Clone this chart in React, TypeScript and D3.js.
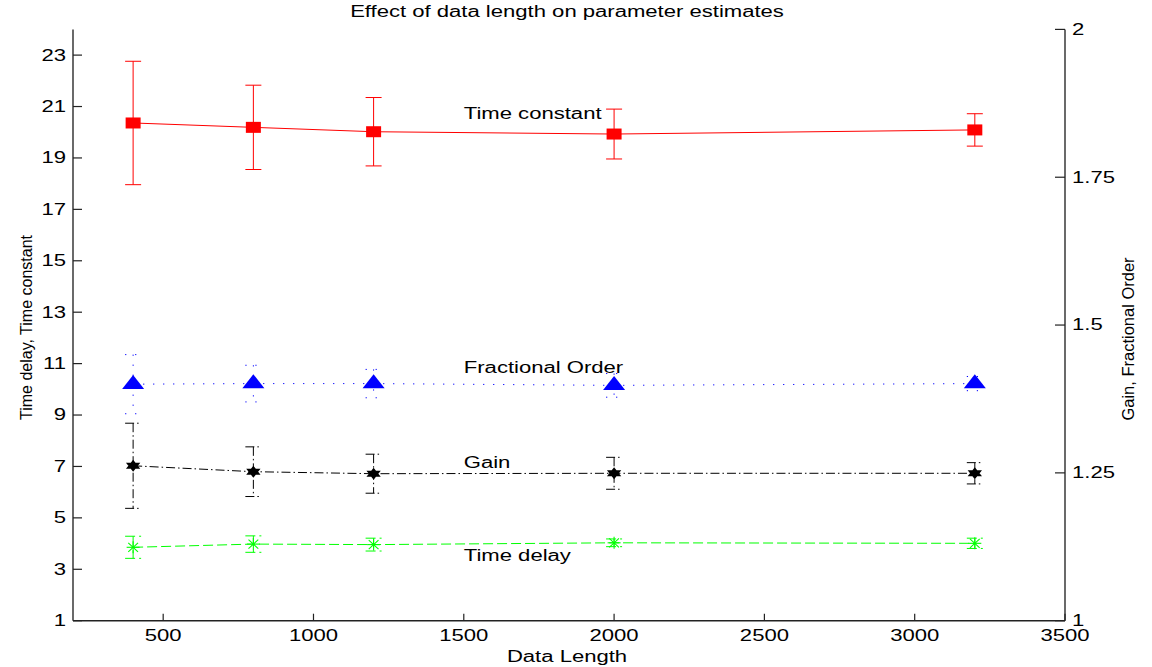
import React from "react";
import * as d3 from "d3";

// Data lengths at which the estimates were evaluated
const dataLength = [400, 800, 1200, 2000, 3200];

// Time constant (left axis): mean and half-width of the error bar
const timeConstant = [20.36, 20.19, 20.02, 19.93, 20.09];
const timeConstantErr = [2.4, 1.64, 1.33, 0.97, 0.63];

// Time delay (left axis)
const timeDelay = [3.855, 3.98, 3.96, 4.03, 4.01];
const timeDelayErr = [0.43, 0.32, 0.25, 0.15, 0.2];

// Fractional order (right axis)
const fracOrder = [1.4, 1.401, 1.401, 1.398, 1.401];
const fracOrderErr = [0.05, 0.031, 0.024, 0.02, 0.012];

// Gain (right axis)
const gain = [1.262, 1.252, 1.2486, 1.2493, 1.2493];
const gainErr = [0.072, 0.042, 0.033, 0.027, 0.018];

// Tick values
const xTicks = [500, 1000, 1500, 2000, 2500, 3000, 3500];
const leftTicks = [1, 3, 5, 7, 9, 11, 13, 15, 17, 19, 21, 23];
const rightTicks = [1, 1.25, 1.5, 1.75, 2];
const rightTickLabels = ["1", "1.25", "1.5", "1.75", "2"];

// In-plot annotations (x in data length, y in left-axis units)
const annotations = [
  { text: "Time constant", x: 1500, y: 20.72 },
  { text: "Fractional Order", x: 1500, y: 10.85 },
  { text: "Gain", x: 1500, y: 7.13 },
  { text: "Time delay", x: 1500, y: 3.55 },
];

const W = 1152;
const H = 667;
const left = 73;
const right = 1065;
const top = 29.4;
const bottom = 620.7;
const SX = 1.38; // horizontal text stretch
const FONT = "'Liberation Sans', Arial, Helvetica, sans-serif";

const x = d3.scaleLinear().domain([200, 3500]).range([left, right]);
const yL = d3.scaleLinear().domain([1, 24]).range([bottom, top]);
const yR = d3.scaleLinear().domain([1, 2]).range([bottom, top]);

type Series = {
  values: number[];
  errs: number[];
  scale: d3.ScaleLinear<number, number>;
  color: string;
  dash: string | undefined;
  marker: "square" | "triangle" | "hexagram" | "asterisk";
};

const series: Series[] = [
  { values: timeConstant, errs: timeConstantErr, scale: yL, color: "#ff0000", dash: undefined, marker: "square" },
  { values: fracOrder, errs: fracOrderErr, scale: yR, color: "#0000ff", dash: "1.2 8.8", marker: "triangle" },
  { values: gain, errs: gainErr, scale: yR, color: "#000000", dash: "9 3 1.5 3", marker: "hexagram" },
  { values: timeDelay, errs: timeDelayErr, scale: yL, color: "#00ff00", dash: "10 4", marker: "asterisk" },
];

function hexagramPath(r: number) {
  const pts = (offset: number) =>
    [0, 1, 2].map((k) => {
      const a = ((offset + k * 120) * Math.PI) / 180;
      return [Math.cos(a) * r * SX, Math.sin(a) * r] as [number, number];
    });
  const tri = (p: [number, number][]) => "M" + p.map((q) => q.join(",")).join("L") + "Z";
  return tri(pts(-90)) + tri(pts(90));
}

function Marker({ kind, cx, cy, color }: { kind: Series["marker"]; cx: number; cy: number; color: string }) {
  if (kind === "square") {
    return <rect x={cx - 7.5} y={cy - 5.5} width={15} height={11} fill={color} />;
  }
  if (kind === "triangle") {
    return <path d={`M${cx},${cy - 9.3}L${cx + 11},${cy + 4.7}L${cx - 11},${cy + 4.7}Z`} fill={color} />;
  }
  if (kind === "hexagram") {
    return <path d={hexagramPath(6)} transform={`translate(${cx},${cy})`} fill={color} />;
  }
  const hx = 6.5;
  const hy = 6;
  return (
    <g stroke={color} strokeWidth={1.1}>
      <line x1={cx - hx} y1={cy} x2={cx + hx} y2={cy} />
      <line x1={cx} y1={cy - hy} x2={cx} y2={cy + hy} />
      <line x1={cx - hx * 0.75} y1={cy - hy * 0.75} x2={cx + hx * 0.75} y2={cy + hy * 0.75} />
      <line x1={cx - hx * 0.75} y1={cy + hy * 0.75} x2={cx + hx * 0.75} y2={cy - hy * 0.75} />
    </g>
  );
}

function SText({ x0, y0, anchor, children, baseline }: { x0: number; y0: number; anchor: string; children: React.ReactNode; baseline?: string }) {
  return (
    <text
      transform={`translate(${x0},${y0}) scale(${SX},1)`}
      textAnchor={anchor}
      dominantBaseline={baseline}
      fontFamily={FONT}
      fontSize={16}
      fill="#000"
    >
      {children}
    </text>
  );
}

export default function App() {
  const capW = 8;
  return (
    <svg
      width={W}
      height={H}
      style={{ position: "absolute", left: 0, top: 0, display: "block", background: "#fff" }}
    >
      {/* series */}
      {series.map((s, si) => {
        const line = d3
          .line<number>()
          .x((_, i) => x(dataLength[i]))
          .y((v) => s.scale(v));
        return (
          <g key={si}>
            <path d={line(s.values) ?? ""} fill="none" stroke={s.color} strokeWidth={1} strokeDasharray={s.dash} />
            {s.values.map((v, i) => {
              const cx = x(dataLength[i]);
              const yt = s.scale(v + s.errs[i]);
              const yb = s.scale(v - s.errs[i]);
              return (
                <g key={i} stroke={s.color} strokeWidth={1} strokeDasharray={s.dash} fill="none">
                  <line x1={cx} y1={yt} x2={cx} y2={yb} />
                  <line x1={cx - capW} y1={yt} x2={cx + capW} y2={yt} />
                  <line x1={cx - capW} y1={yb} x2={cx + capW} y2={yb} />
                </g>
              );
            })}
            {s.values.map((v, i) => (
              <Marker key={"m" + i} kind={s.marker} cx={x(dataLength[i])} cy={s.scale(v)} color={s.color} />
            ))}
          </g>
        );
      })}

      {/* annotations */}
      {annotations.map((a) => (
        <SText key={a.text} x0={x(a.x)} y0={yL(a.y)} anchor="start" baseline="central">
          {a.text}
        </SText>
      ))}

      {/* axes lines */}
      <line x1={left} y1={top} x2={left} y2={bottom} stroke="#444" strokeWidth={1.6} />
      <line x1={right} y1={top} x2={right} y2={bottom} stroke="#444" strokeWidth={1.6} />
      <line x1={left} y1={bottom} x2={right} y2={bottom} stroke="#222" strokeWidth={1.6} />

      {/* x ticks */}
      {xTicks.map((t) => (
        <g key={"x" + t}>
          <line x1={x(t)} y1={bottom} x2={x(t)} y2={bottom - 7} stroke="#222" strokeWidth={1.2} />
          <SText x0={x(t)} y0={641} anchor="middle">
            {t}
          </SText>
        </g>
      ))}

      {/* left ticks */}
      {leftTicks.map((t) => (
        <g key={"l" + t}>
          <line x1={left} y1={yL(t)} x2={left + 9} y2={yL(t)} stroke="#222" strokeWidth={1.2} />
          <SText x0={66} y0={yL(t)} anchor="end" baseline="central">
            {t}
          </SText>
        </g>
      ))}

      {/* right ticks */}
      {rightTicks.map((t, i) => (
        <g key={"r" + t}>
          <line x1={right - 10} y1={yR(t)} x2={right} y2={yR(t)} stroke="#222" strokeWidth={1.2} />
          <SText x0={1072} y0={yR(t)} anchor="start" baseline="central">
            {rightTickLabels[i]}
          </SText>
        </g>
      ))}

      {/* title and axis labels */}
      <SText x0={567} y0={17} anchor="middle">
        Effect of data length on parameter estimates
      </SText>
      <SText x0={567} y0={662} anchor="middle">
        Data Length
      </SText>
      <text
        transform={`translate(32,327.5) rotate(-90)`}
        textAnchor="middle"
        fontFamily={FONT}
        fontSize={16}
      >
        Time delay, Time constant
      </text>
      <text
        transform={`translate(1134,339) rotate(-90)`}
        textAnchor="middle"
        fontFamily={FONT}
        fontSize={16.5}
      >
        Gain, Fractional Order
      </text>
    </svg>
  );
}
